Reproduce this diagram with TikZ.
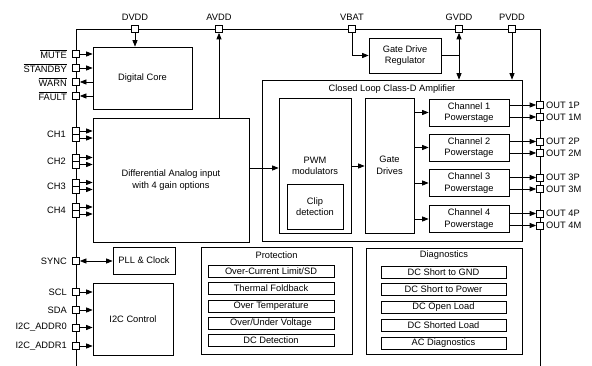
\documentclass[tikz,border=0pt]{standalone}
\usepackage{fontspec}
\setmainfont{Liberation Sans}
\usetikzlibrary{arrows.meta}
\begin{document}
\begin{tikzpicture}[x=1pt,y=-1pt,
  every node/.style={font=\fontsize{9.3}{11.5}\selectfont, inner sep=0pt},
  blk/.style={draw, line width=0.7pt, align=center},
  pinsq/.style={draw, fill=white, minimum size=7pt, inner sep=0pt, line width=0.7pt},
  arr/.style={-{Triangle[length=6.5pt,width=5pt]}, line width=0.7pt},
  darr/.style={{Triangle[length=6.5pt,width=5pt]}-{Triangle[length=6.5pt,width=5pt]}, line width=0.7pt},
  ln/.style={line width=0.7pt},
  llab/.style={anchor=east},
  rlab/.style={anchor=west},
  item/.style={draw, line width=0.7pt, minimum height=12pt}
]
\useasboundingbox (0,0) rectangle (592,366);
% chip outline
\draw[ln] (76,366) -- (76,29) -- (540,29) -- (540,366);

% blocks
\node[blk, minimum width=99pt, minimum height=62pt] (dc) at (142.5,78) {Digital Core};
\node[blk, minimum width=156pt, minimum height=124pt] (dai) at (171,180) {Differential Analog input\\with 4 gain options};
\node[blk, minimum width=260pt, minimum height=161pt] (amp) at (392,160.5) {};
\node (amptitle) at (392,89) {Closed Loop Class-D Amplifier};
\node[blk, minimum width=72pt, minimum height=135pt] (pwm) at (315,165.5) {};
\node (pwmtxt) at (315,166) [align=center] {PWM\\modulators};
\node[blk, minimum width=56pt, minimum height=45pt] (clip) at (315,206.5) {Clip\\detection};
\node[blk, minimum width=49pt, minimum height=135pt] (gd) at (389.5,165.5) {Gate\\Drives};
\node[blk, minimum width=80pt, minimum height=27pt] (ch1) at (469,112.5) {Channel 1\\Powerstage};
\node[blk, minimum width=80pt, minimum height=27pt] (ch2) at (469,147.5) {Channel 2\\Powerstage};
\node[blk, minimum width=80pt, minimum height=27pt] (ch3) at (469,183) {Channel 3\\Powerstage};
\node[blk, minimum width=80pt, minimum height=27pt] (ch4) at (469,219) {Channel 4\\Powerstage};
\node[blk, minimum width=72pt, minimum height=35pt] (reg) at (405,55.5) {Gate Drive\\Regulator};
\node[blk, minimum width=62pt, minimum height=27pt] (pll) at (144,260.5) {PLL \& Clock};
\node[blk, minimum width=80pt, minimum height=72pt] (i2c) at (133,319) {I2C Control};

% protection
\node[blk, minimum width=151pt, minimum height=107pt] (prot) at (276.5,300.5) {};
\node (prottitle) at (276.5,255) {Protection};
\node[item, minimum width=126pt] (p1) at (271,271.5) {Over-Current Limit/SD};
\node[item, minimum width=126pt] (p2) at (271,288) {Thermal Foldback};
\node[item, minimum width=126pt] (p3) at (271,306) {Over Temperature};
\node[item, minimum width=126pt] (p4) at (271,323) {Over/Under Voltage};
\node[item, minimum width=126pt] (p5) at (271,340) {DC Detection};

% diagnostics
\node[blk, minimum width=156pt, minimum height=106pt] (diag) at (444,301) {};
\node (diagtitle) at (444,255) {Diagnostics};
\node[item, minimum width=125pt] (d1) at (443.5,272) {DC Short to GND};
\node[item, minimum width=125pt] (d2) at (443.5,289.5) {DC Short to Power};
\node[item, minimum width=125pt] (d3) at (443.5,307) {DC Open Load};
\node[item, minimum width=125pt] (d4) at (443.5,325) {DC Shorted Load};
\node[item, minimum width=125pt] (d5) at (443.5,343) {AC Diagnostics};

% top pins
\node[pinsq] (dvdd) at (135,29) {};
\node[pinsq] (avdd) at (219,29) {};
\node[pinsq] (vbat) at (352,29) {};
\node[pinsq] (gvdd) at (459,29) {};
\node[pinsq] (pvdd) at (512,29) {};
\node (ldvdd) at (135,17) {DVDD};
\node (lavdd) at (219,17) {AVDD};
\node (lvbat) at (352,17) {VBAT};
\node (lgvdd) at (459,17) {GVDD};
\node (lpvdd) at (512,17) {PVDD};

% top connections
\draw[arr] (dvdd.south) -- (dvdd.south |- dc.north);
\draw[arr] (avdd.south |- dai.north) -- (avdd.south);
\draw[arr] (vbat.south) |- (reg.west);
\coordinate (gjoin) at (gvdd.south |- reg.east);
\draw[ln] (reg.east) -- (gjoin);
\draw[darr] (gvdd.south) -- (gvdd.south |- amp.north);
\draw[arr] (pvdd.south) -- (pvdd.south |- amp.north);

% left control pins
\node[pinsq] (mute) at (76,54) {};
\node[pinsq] (stby) at (76,68) {};
\node[pinsq] (warn) at (76,82) {};
\node[pinsq] (fault) at (76,96) {};
\node[llab] at (67,54) {$\overline{\mbox{MUTE}}$};
\node[llab] at (67,68) {$\overline{\mbox{STANDBY}}$};
\node[llab] at (67,82) {$\overline{\mbox{WARN}}$};
\node[llab] at (67,96) {$\overline{\mbox{FAULT}}$};
\draw[arr] (mute.east) -- (mute.east -| dc.west);
\draw[arr] (stby.east) -- (stby.east -| dc.west);
\draw[arr] (warn.east -| dc.west) -- (warn.east);
\draw[arr] (fault.east -| dc.west) -- (fault.east);

% CH pins
\foreach \n/\ya/\yb in {1/131/138, 2/157.5/164.5, 3/182.5/189.5, 4/207/214} {
  \node[pinsq] (ch\n a) at (76,\ya) {};
  \node[pinsq] (ch\n b) at (76,\yb) {};
  \node[llab] (lch\n) at (66,{(\ya+\yb)/2}) {CH\n};
  \draw[arr] (ch\n a.east) -- (ch\n a.east -| dai.west);
  \draw[arr] (ch\n b.east) -- (ch\n b.east -| dai.west);
}

% signal chain
\coordinate (daiout) at (dai.east |- 0,168);
\draw[arr] (daiout) -- (daiout -| pwm.west);
\coordinate (pwmout) at (pwm.east |- 0,166);
\draw[arr] (pwmout) -- (pwmout -| gd.west);
\foreach \n in {1,2,3,4} {
  \draw[arr] (gd.east |- ch\n.west) -- (ch\n.west);
}

% output pins
\foreach \n/\yp/\ym in {1/105/117, 2/141.5/153, 3/177.5/189, 4/213.5/225.5} {
  \node[pinsq] (o\n p) at (540,\yp) {};
  \node[pinsq] (o\n m) at (540,\ym) {};
  \node[rlab] at (546,\yp) {OUT \n P};
  \node[rlab] at (546,\ym) {OUT \n M};
  \draw[arr] (ch\n.east |- o\n p.west) -- (o\n p.west);
  \draw[arr] (ch\n.east |- o\n m.west) -- (o\n m.west);
}

% bottom left pins
\node[pinsq] (sync) at (76,261) {};
\node[llab] at (67,261) {SYNC};
\draw[darr] (sync.east) -- (sync.east -| pll.west);
\node[pinsq] (scl) at (76,292) {};
\node[pinsq] (sda) at (76,310) {};
\node[pinsq] (ad0) at (76,327.5) {};
\node[pinsq] (ad1) at (76,346) {};
\node[llab] at (67,292) {SCL};
\node[llab] at (67,310) {SDA};
\node[llab] at (67,327.5) {I2C\_ADDR0};
\node[llab] at (67,346) {I2C\_ADDR1};
\draw[arr] (scl.east) -- (scl.east -| i2c.west);
\draw[arr] (sda.east) -- (sda.east -| i2c.west);
\draw[arr] (ad0.east) -- (ad0.east -| i2c.west);
\draw[arr] (ad1.east) -- (ad1.east -| i2c.west);
\end{tikzpicture}
\end{document}
